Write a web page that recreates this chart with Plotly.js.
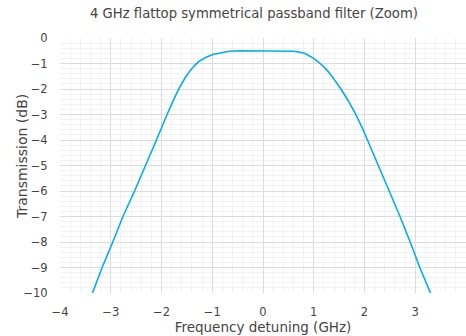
<!DOCTYPE html>
<html>
<head>
<meta charset="utf-8">
<script src="https://cdn.plot.ly/plotly-3.0.1.min.js"></script>
<style>html,body{margin:0;padding:0;background:#fff;}#chart{width:466px;height:336px;}</style>
</head>
<body>
<div id="chart"></div>
<script>
const detuningGHz = [-3.36, -3.17, -2.96, -2.76, -2.53, -2.31, -2.10, -1.89, -1.84, -1.74, -1.64, -1.54, -1.44, -1.35, -1.25, -1.12, -0.99, -0.82, -0.66, -0.46, 0, 0.42, 0.62, 0.82, 1.00, 1.14, 1.27, 1.40, 1.54, 1.67, 1.80, 1.96, 2.06, 2.27, 2.49, 2.70, 2.90, 3.09, 3.30];
const transmissionDb = [-10, -9, -8, -7, -6, -5, -4, -3.0, -2.77, -2.33, -1.93, -1.58, -1.29, -1.08, -0.90, -0.75, -0.65, -0.57, -0.52, -0.50, -0.50, -0.50, -0.52, -0.60, -0.80, -1.02, -1.28, -1.62, -2.01, -2.43, -2.89, -3.54, -4, -5, -6, -7, -8, -9, -10];
const titleText = "4 GHz flattop symmetrical passband filter (Zoom)";
const xTitle = "Frequency detuning (GHz)";
const yTitle = "Transmission (dB)";

const fontFam = "DejaVu Sans, sans-serif";
const txt = "#444";
Plotly.newPlot("chart", [{
  x: detuningGHz, y: transmissionDb, type: "scatter", mode: "lines",
  line: {color: "#00AEEF", width: 1.6, shape: "linear"},
  hoverinfo: "skip"
}], {
  width: 466, height: 336,
  margin: {l: 60, r: 0, t: 38, b: 43},
  paper_bgcolor: "#fff", plot_bgcolor: "#fff",
  font: {family: fontFam, size: 12, color: txt},
  title: {text: titleText, x: 0.545, xanchor: "center", y: 0.975, yanchor: "top", font: {size: 13.2, color: txt, family: fontFam}},
  showlegend: false,
  xaxis: {
    range: [-4, 4], dtick: 1, tick0: 0, zeroline: false,
    gridcolor: "#dcdcdc", gridwidth: 1,
    minor: {dtick: 0.2, showgrid: true, gridcolor: "#f2f2f2", gridwidth: 1, ticks: ""},
    showline: false, ticks: "outside", ticklen: 8, tickcolor: "rgba(0,0,0,0)",
    title: {text: xTitle, standoff: 4, font: {size: 13.5, color: txt}},
    tickfont: {size: 11.5, color: txt}
  },
  yaxis: {
    range: [-10, 0], dtick: 1, tick0: 0, zeroline: false,
    gridcolor: "#dcdcdc", gridwidth: 1,
    minor: {dtick: 0.2, showgrid: true, gridcolor: "#f2f2f2", gridwidth: 1, ticks: ""},
    showline: false, ticks: "outside", ticklen: 9, tickcolor: "rgba(0,0,0,0)",
    tickfont: {size: 11.5, color: txt}
  },
  annotations: [{
    text: yTitle, textangle: -90, xref: "paper", yref: "paper",
    x: -0.0936, y: 0.537, xanchor: "center", yanchor: "middle", showarrow: false,
    font: {size: 14, color: txt, family: fontFam}
  }]
}, {displayModeBar: false, staticPlot: true});
</script>
</body>
</html>
